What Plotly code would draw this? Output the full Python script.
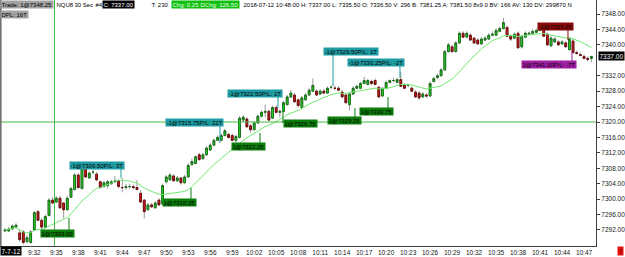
import plotly.graph_objects as go
import pandas as pd

# ---------------- data (30-sec NQU8 bars, 2018-07-12) ----------------
opens = [7291.75, 7291.75, 7292.25, 7292.75, 7291.25, 7291.5, 7289.0, 7288.75, 7292.0, 7296.75,
         7294.5, 7292.75, 7295.75, 7299.75, 7299.25, 7300.25, 7299.0, 7297.25, 7300.5, 7302.5,
         7306.25, 7302.75, 7308.0, 7305.5, 7307.0, 7306.5, 7304.5, 7303.25, 7303.5, 7304.0,
         7304.5, 7304.75, 7303.0, 7303.0, 7303.25, 7303.25, 7303.0, 7301.5, 7299.75, 7297.25,
         7298.5, 7297.75, 7299.75, 7298.75, 7304.5, 7305.0, 7306.0, 7304.75, 7305.5, 7304.25,
         7305.75, 7309.0, 7309.25, 7311.5, 7310.5, 7311.5, 7312.75, 7314.0, 7315.25, 7315.25,
         7316.5, 7316.75, 7316.5, 7315.25, 7316.0, 7320.5, 7320.75, 7319.0, 7318.0, 7319.75,
         7321.5, 7322.5, 7322.75, 7321.0, 7323.75, 7322.5, 7322.75, 7324.5, 7326.5, 7327.0,
         7325.75, 7323.75, 7325.75, 7327.0, 7328.0, 7328.0, 7327.25, 7328.0, 7327.5, 7329.0,
         7328.75, 7328.75, 7327.75, 7327.0, 7324.5, 7327.25, 7328.75, 7328.75, 7330.0, 7329.75,
         7330.5, 7330.75, 7329.0, 7326.75, 7328.75, 7330.25, 7330.75, 7330.25, 7331.0, 7329.5,
         7329.5, 7328.75, 7327.75, 7327.5, 7326.5, 7327.0, 7326.75, 7330.5, 7331.5, 7332.0,
         7333.5, 7338.25, 7339.5, 7338.25, 7340.5, 7343.0, 7342.0, 7342.5, 7341.75, 7341.25,
         7340.25, 7341.25, 7341.5, 7342.5, 7342.5, 7343.5, 7344.25, 7344.5, 7342.25, 7341.75,
         7343.0, 7339.5, 7342.0, 7342.75, 7343.0, 7343.25, 7343.75, 7343.75, 7342.75, 7339.75,
         7340.75, 7340.75, 7340.25, 7340.5, 7338.75, 7341.0, 7338.0, 7337.5, 7337.0, 7336.5,
         7336.5]
highs = [7292.5, 7292.75, 7293.5, 7293.75, 7292.0, 7292.0, 7290.75, 7292.0, 7297.0, 7297.25,
         7295.0, 7296.0, 7300.25, 7300.5, 7300.75, 7300.75, 7299.25, 7300.75, 7303.25, 7306.75,
         7306.75, 7309.5, 7308.5, 7307.25, 7307.5, 7307.0, 7304.75, 7304.75, 7305.0, 7305.0,
         7306.0, 7305.25, 7305.5, 7304.0, 7304.0, 7303.75, 7305.0, 7302.25, 7300.0, 7299.0,
         7299.0, 7299.5, 7300.25, 7304.0, 7306.25, 7306.75, 7306.5, 7306.0, 7305.75, 7306.25,
         7309.25, 7310.5, 7311.25, 7312.0, 7312.0, 7313.75, 7314.5, 7315.75, 7316.5, 7317.0,
         7318.25, 7317.25, 7317.0, 7316.75, 7321.5, 7321.75, 7321.25, 7319.5, 7320.25, 7322.0,
         7323.0, 7324.5, 7323.25, 7324.25, 7324.25, 7323.25, 7325.5, 7327.0, 7328.25, 7327.5,
         7326.0, 7326.75, 7327.5, 7328.75, 7331.25, 7328.5, 7328.5, 7328.5, 7329.25, 7329.5,
         7329.5, 7329.25, 7328.25, 7327.25, 7327.5, 7329.25, 7329.75, 7330.5, 7331.75, 7331.25,
         7331.0, 7331.25, 7329.25, 7329.0, 7330.75, 7331.0, 7331.5, 7331.5, 7333.0, 7330.0,
         7330.0, 7329.25, 7328.25, 7328.0, 7327.75, 7327.5, 7330.5, 7331.75, 7332.5, 7334.0,
         7338.75, 7340.5, 7340.0, 7341.0, 7343.5, 7343.5, 7343.5, 7343.0, 7342.0, 7341.75,
         7342.0, 7342.25, 7343.0, 7343.5, 7344.25, 7344.75, 7347.0, 7345.0, 7342.75, 7343.25,
         7343.5, 7342.5, 7343.5, 7343.5, 7344.0, 7344.25, 7345.0, 7344.25, 7343.25, 7342.25,
         7342.0, 7341.25, 7341.25, 7341.0, 7342.0, 7341.5, 7338.5, 7338.0, 7337.5, 7337.0,
         7337.0]
lows = [7291.5, 7291.5, 7292.0, 7292.5, 7289.0, 7288.25, 7288.5, 7288.5, 7291.75, 7294.25,
        7292.25, 7292.5, 7295.5, 7298.75, 7299.0, 7297.5, 7295.0, 7297.0, 7300.25, 7302.25,
        7302.75, 7302.5, 7305.5, 7305.25, 7306.5, 7304.75, 7302.75, 7303.0, 7302.75, 7303.75,
        7304.25, 7303.0, 7301.75, 7302.5, 7302.75, 7302.5, 7302.25, 7299.0, 7295.0, 7297.0,
        7297.75, 7297.5, 7298.25, 7298.5, 7304.0, 7304.75, 7304.5, 7304.5, 7303.75, 7304.0,
        7305.5, 7308.5, 7309.0, 7310.0, 7310.25, 7311.25, 7312.5, 7313.75, 7315.0, 7315.0,
        7316.25, 7315.75, 7315.0, 7314.75, 7315.75, 7320.0, 7318.5, 7317.25, 7317.75, 7319.5,
        7321.25, 7321.25, 7320.25, 7320.75, 7322.25, 7321.25, 7322.5, 7324.25, 7326.25, 7325.0,
        7323.75, 7323.25, 7325.5, 7326.75, 7327.75, 7326.75, 7327.0, 7327.25, 7327.25, 7328.5,
        7328.25, 7328.0, 7326.25, 7324.75, 7323.0, 7327.0, 7328.5, 7328.5, 7329.75, 7329.5,
        7329.5, 7329.5, 7326.25, 7326.5, 7328.5, 7330.0, 7330.25, 7330.0, 7329.0, 7328.5,
        7329.0, 7327.75, 7326.25, 7325.75, 7326.25, 7326.25, 7326.5, 7330.25, 7331.25, 7331.75,
        7333.25, 7338.0, 7338.0, 7338.0, 7340.25, 7341.75, 7341.75, 7341.0, 7340.25, 7340.0,
        7340.0, 7341.0, 7341.25, 7342.25, 7342.25, 7343.25, 7344.0, 7342.0, 7341.0, 7341.5,
        7339.0, 7339.0, 7341.75, 7342.5, 7342.75, 7343.0, 7343.5, 7342.0, 7339.75, 7339.5,
        7340.5, 7339.75, 7340.0, 7339.25, 7338.5, 7337.75, 7337.5, 7337.0, 7336.25, 7335.75,
        7335.5]
closes = [7292.0, 7292.25, 7293.0, 7293.25, 7289.5, 7288.75, 7290.0, 7291.5, 7296.5, 7294.5,
          7292.75, 7295.5, 7299.75, 7299.0, 7300.25, 7297.75, 7297.25, 7300.25, 7302.75, 7306.25,
          7303.0, 7308.25, 7305.75, 7306.75, 7307.0, 7305.0, 7303.0, 7304.25, 7304.5, 7304.5,
          7304.75, 7303.25, 7303.0, 7303.25, 7303.25, 7303.0, 7302.5, 7299.25, 7296.75, 7298.5,
          7298.0, 7299.0, 7298.5, 7303.5, 7305.75, 7306.25, 7304.75, 7305.5, 7304.25, 7305.75,
          7308.75, 7309.75, 7311.0, 7310.25, 7311.5, 7313.25, 7314.0, 7315.25, 7316.0, 7316.5,
          7317.75, 7316.0, 7315.25, 7316.25, 7321.0, 7321.25, 7318.75, 7318.0, 7319.75, 7321.5,
          7322.5, 7322.75, 7320.5, 7323.75, 7322.5, 7322.75, 7325.0, 7326.5, 7327.5, 7325.25,
          7324.25, 7326.25, 7327.0, 7328.25, 7329.5, 7327.0, 7328.0, 7327.5, 7328.75, 7329.0,
          7328.75, 7328.25, 7326.5, 7325.0, 7327.25, 7328.75, 7329.25, 7330.0, 7330.75, 7330.75,
          7330.0, 7329.75, 7326.5, 7328.75, 7330.25, 7330.75, 7330.75, 7331.0, 7329.25, 7328.75,
          7329.5, 7328.0, 7326.5, 7326.25, 7327.25, 7326.75, 7330.0, 7331.25, 7332.0, 7333.5,
          7338.25, 7340.0, 7338.25, 7340.5, 7343.0, 7342.0, 7343.0, 7341.25, 7340.5, 7340.25,
          7341.5, 7341.75, 7342.5, 7342.75, 7343.75, 7344.25, 7345.75, 7342.25, 7341.5, 7342.75,
          7339.25, 7342.25, 7343.0, 7343.0, 7343.5, 7343.75, 7344.25, 7342.25, 7340.0, 7341.75,
          7341.5, 7340.0, 7340.75, 7339.5, 7341.5, 7338.0, 7337.75, 7337.25, 7336.5, 7336.25,
          7337.0]

bar_times = pd.date_range("2018-07-12 09:28:00", periods=len(closes), freq="30s")
ma_period = 14
ma_values = pd.Series(closes).rolling(ma_period, min_periods=1).mean()

x_tick_labels = ["9:32", "9:35", "9:38", "9:41", "9:44", "9:47", "9:50", "9:53", "9:56", "9:59",
                 "10:02", "10:05", "10:08", "10:11", "10:14", "10:17", "10:20", "10:23", "10:26",
                 "10:29", "10:32", "10:35", "10:38", "10:41", "10:44", "10:47"]
# 7336.00 sits under the last-price box in the reference, so it is not shown
y_tick_values = [7292, 7296, 7300, 7304, 7308, 7312, 7316, 7320, 7324, 7328, 7332, 7340, 7344, 7348]

last_price = 7337.00
crosshair_price = 7320.00
crosshair_bar = 13.5

# trade fills
trade_texts = ["-1@7309.50P/L: 3T", "-1@7315.75P/L: 22T", "-1@7322.50P/L: 1T", "-1@7329.50P/L: 1T",
               "-1@7330.25P/L: -2T", "-1@7339.25", "1@7341.00P/L: -7T",
               "1@7303.00", "1@7310.25", "1@7322.25", "1@7326.75", "1@7329.25", "1@7330.75"]
trade_colors = ["#1f9ca3"] * 5 + ["#8c0a0a", "#a01fa3"] + ["#0b7d0b"] * 6
trade_label_bar = [17.46, 43.66, 60.57, 86.77, 93.32, 145.16, 140.79, 9.55, 42.84, 61.66, 75.85, 87.86, 96.59]
trade_label_price = [7308.85, 7319.87, 7327.39, 7338.15, 7335.43, 7344.89, 7334.78,
                     7291.09, 7299.13, 7313.65, 7319.74, 7320.26, 7322.72]
trade_conn_bar = [31.65, 58.66, 74.49, 89.5, 107.78, 153.62, 154.71, 17.46, 50.75, 69.58, 75.85, 95.5, 104.5]
trade_tip_price = [7305.48, 7314.56, 7323.63, 7329.33, 7331.41, 7341.26, 7338.15,
                   7295.11, 7302.89, 7317.15, 7322.59, 7323.63, 7326.48]

# ---------------- figure ----------------
PW, PH = 596.0, 246.0
FONT = "Liberation Sans, Arial, sans-serif"
t0 = bar_times[0]


def bar_time(frac):
    return t0 + pd.Timedelta(seconds=30 * frac)


body_hi = [max(o, c) for o, c in zip(opens, closes)]
body_lo = [min(o, c) for o, c in zip(opens, closes)]

fig = go.Figure()
# wicks
fig.add_trace(go.Candlestick(
    x=bar_times, open=opens, high=highs, low=lows, close=closes,
    increasing=dict(line=dict(color="#9a9a9a", width=1), fillcolor="#9a9a9a"),
    decreasing=dict(line=dict(color="#9a9a9a", width=1), fillcolor="#9a9a9a"),
    whiskerwidth=0, hoverinfo="skip", showlegend=False))
# bodies
fig.add_trace(go.Candlestick(
    x=bar_times, open=opens, high=body_hi, low=body_lo, close=closes,
    increasing=dict(line=dict(color="#1c6e1c", width=1), fillcolor="#1fe01f"),
    decreasing=dict(line=dict(color="#6e1010", width=1), fillcolor="#e01818"),
    whiskerwidth=0, hoverinfo="skip", showlegend=False))
# moving average
fig.add_trace(go.Scatter(x=bar_times, y=ma_values, mode="lines",
                         line=dict(color="#6ee86e", width=1), hoverinfo="skip", showlegend=False))

shapes = []
# crosshair
shapes.append(dict(type="line", xref="x", yref="paper", x0=bar_time(crosshair_bar), x1=bar_time(crosshair_bar),
                   y0=0, y1=1, line=dict(color="#44bb44", width=1), layer="above"))
shapes.append(dict(type="line", xref="paper", yref="y", x0=0, x1=1, y0=crosshair_price, y1=crosshair_price,
                   line=dict(color="#44bb44", width=1), layer="above"))
# left border
shapes.append(dict(type="line", xref="paper", yref="paper", x0=0.001, x1=0.001, y0=0, y1=1,
                   line=dict(color="#707070", width=2), layer="above"))

annotations = []
for txt, col, lb, lp, cb, tp in zip(trade_texts, trade_colors, trade_label_bar, trade_label_price,
                                     trade_conn_bar, trade_tip_price):
    shapes.append(dict(type="line", xref="x", yref="y", x0=bar_time(cb), x1=bar_time(cb), y0=lp, y1=tp,
                       line=dict(color=col, width=1), layer="above"))
    annotations.append(dict(xref="x", yref="y", x=bar_time(lb), y=lp, xanchor="left", yanchor="middle",
                            text=txt, showarrow=False, bgcolor=col, borderpad=0.5,
                            font=dict(family=FONT, size=6, color="#000000")))


def hdr(px, py, text, bg=None, color="#000000", size=6.0, xanchor="left"):
    d = dict(xref="paper", yref="paper", x=px / PW, y=1 - py / PH, xanchor=xanchor, yanchor="middle",
             text=text, showarrow=False, borderpad=0.5,
             font=dict(family=FONT, size=size, color=color))
    if bg:
        d["bgcolor"] = bg
    annotations.append(d)


hdr(0, 4.5, "Trade: 1@7348.25", bg="#a3a3a3")
hdr(55, 4.5, "NQU8")
hdr(73, 4.5, "30 Sec")
hdr(94, 4.5, "#4")
hdr(102, 4.5, "C: 7337.00", bg="#000000", color="#ffffff")
hdr(150, 4.5, "T: 230")
hdr(171, 4.5, "Chg: 0.25", bg="#10c010", color="#eaffea")
hdr(199, 4.5, "DChg: 126.50", bg="#10c010", color="#eaffea")
hdr(242, 4.5, "2018-07-12 10:48:00 H: 7337.00 L: 7335.50 O: 7336.50 V: 296 B: 7381.25 A: 7381.50 "
              "8x9 0 BV: 166 AV: 130 DV: 299870 N")
hdr(0, 14.5, "DPL: 16T", bg="#a3a3a3")

# last price box on the axis
annotations.append(dict(xref="paper", yref="y", x=598 / PW, y=last_price, xanchor="left", yanchor="middle",
                        text=f"{last_price:.2f}", showarrow=False, bgcolor="#000000", borderpad=0.5,
                        font=dict(family=FONT, size=6.5, color="#ffffff")))
# date box bottom-left and red box bottom-right
hdr(0, 251, "7-7-12", bg="#000000", color="#ffffff", size=6.5)
hdr(617, 250.5, "?", bg="#ee1111", color="#300000", size=6.5)

tick_vals = [pd.Timestamp("2018-07-12 " + (s if len(s) == 5 else "0" + s) + ":00") for s in x_tick_labels]

fig.update_layout(
    width=625, height=257, margin=dict(l=0, r=29, t=0, b=11),
    paper_bgcolor="white", plot_bgcolor="white", showlegend=False, hovermode=False,
    shapes=shapes, annotations=annotations,
    font=dict(family=FONT, size=6.5, color="#202020"),
    xaxis=dict(type="date", range=[t0 - pd.Timedelta(seconds=41), t0 + pd.Timedelta(seconds=4838)],
               rangeslider=dict(visible=False), showgrid=False, zeroline=False,
               showline=True, linecolor="#404040", linewidth=1,
               tickvals=tick_vals, ticktext=x_tick_labels, ticks="", automargin=False,
               tickfont=dict(family=FONT, size=6.5, color="#202020")),
    yaxis=dict(side="right", range=[7287.85, 7351.63], showgrid=False, zeroline=False,
               showline=True, linecolor="#404040", linewidth=1,
               tickvals=y_tick_values, tickformat=".2f", ticks="outside", ticklen=3,
               tickcolor="#404040", automargin=False,
               tickfont=dict(family=FONT, size=6.5, color="#202020")),
)

fig.write_html("out.html")
